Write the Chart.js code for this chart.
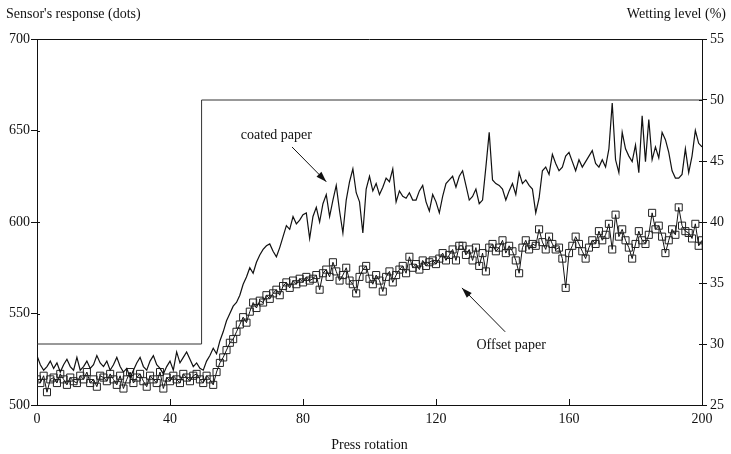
<!DOCTYPE html>
<html>
<head>
<meta charset="utf-8">
<script src="https://cdn.jsdelivr.net/npm/chart.js@4/dist/chart.umd.min.js"></script>
<style>
  html, body { margin: 0; padding: 0; background: #fff; }
  #wrap { width: 731px; height: 454px; }
</style>
</head>
<body>
<div id="wrap"><canvas id="chart" width="731" height="454"></canvas></div>
<script>
// press rotation = index in the arrays below (0..200)
const coatedPaper = [
  527, 522, 519, 521, 524, 520, 523, 518, 522, 525,
  521, 519, 526, 519, 521, 524, 520, 522, 527, 523,
  521, 524, 519, 522, 526, 521, 518, 520, 515, 519,
  523, 526, 521, 519, 524, 527, 522, 520, 517, 521,
  524, 519, 529, 523, 526, 529, 525, 521, 523, 520,
  519, 524, 527, 531, 528, 535, 540, 546, 550, 554,
  556, 560, 566, 570, 575, 572, 578, 582, 585, 587,
  588, 584, 581, 586, 592, 598, 596, 603, 599, 601,
  604, 605, 591, 603, 608, 600, 610, 615, 603, 612,
  620, 606, 594, 612, 622, 629, 616, 611, 594, 618,
  625, 617, 621, 615, 619, 624, 622, 629, 611, 617,
  614, 613, 616, 612, 612, 617, 620, 611, 606, 615,
  611, 605, 614, 621, 623, 625, 619, 625, 628, 620,
  612, 614, 618, 610, 612, 630, 649, 623, 621, 620,
  618, 612, 617, 621, 615, 627, 621, 623, 620, 618,
  605, 613, 628, 630, 626, 637, 632, 628, 630, 636,
  638, 633, 628, 634, 630, 633, 636, 639, 632, 630,
  634, 630, 640, 665, 634, 627, 649, 640, 636, 633,
  642, 627, 658, 633, 656, 634, 641, 635, 649, 645,
  638, 628, 624, 624, 626, 640, 627, 636, 650, 643,
  641
];
const offsetPaper = [
  514, 512, 516, 507, 514, 515, 512, 517, 514, 511,
  515, 513, 512, 516, 514, 518, 512, 514, 510, 516,
  515, 513, 517, 514, 511, 516, 509, 514, 518, 512,
  515, 517, 513, 510, 516, 514, 512, 518, 509, 515,
  513, 516, 514, 512, 517, 515, 513, 516, 517, 514,
  512, 516, 514, 511, 518, 523, 526, 530, 534, 536,
  540, 544, 548, 545, 551, 556, 553, 557, 556, 560,
  558, 561, 563, 560, 565, 567, 564, 568, 566, 569,
  567, 570, 568, 569, 571, 563, 572, 574, 570, 578,
  573, 568, 571, 575, 568, 566, 561, 570, 574, 576,
  569, 566, 571, 568, 562, 570, 573, 567, 571, 574,
  576, 572, 581, 575, 577, 574, 579, 576, 578, 579,
  577, 580, 583, 579, 582, 585, 579, 587, 587, 582,
  585, 579, 586, 576, 583, 573, 586, 588, 584, 586,
  590, 583, 587, 584, 579, 572, 586, 590, 585, 588,
  587, 596, 589, 585, 592, 588, 585, 586, 580, 564,
  583, 587, 592, 588, 584, 580, 586, 590, 588, 595,
  590, 593, 599, 585, 604, 592, 596, 590, 586, 580,
  588, 595, 590, 588, 593, 605, 596, 598, 592, 583,
  590, 596, 593, 608, 598, 595, 594, 591, 599, 587,
  590
];
const wettingX = [0, 49.5, 49.5, 200];
const wettingY = [30, 30, 50, 50];
const xTicks = [0, 40, 80, 120, 160, 200];
const leftTicks = [500, 550, 600, 650, 700];
const rightTicks = [25, 30, 35, 40, 45, 50, 55];

const FONT = "'Liberation Serif', 'DejaVu Serif', serif";
const INK = "#111";

const toPoints = (arr) => arr.map((v, i) => ({ x: i, y: v }));

// titles, annotations, inward ticks
const decorations = {
  id: "decorations",
  afterDraw(chart) {
    const { ctx, chartArea: a, scales } = chart;
    const x = scales.x, yl = scales.y, yr = scales.y2;
    ctx.save();
    ctx.strokeStyle = INK;
    ctx.lineWidth = 1;
    // frame top line
    ctx.beginPath();
    ctx.moveTo(a.left, a.top + 0.5);
    ctx.lineTo(a.right, a.top + 0.5);
    ctx.stroke();
    // inward x ticks
    xTicks.forEach((t) => {
      const px = Math.round(x.getPixelForValue(t)) + 0.5;
      ctx.beginPath();
      ctx.moveTo(px, a.bottom);
      ctx.lineTo(px, a.bottom - 6);
      ctx.stroke();
    });
    // inward y ticks
    leftTicks.forEach((t) => {
      const py = Math.round(yl.getPixelForValue(t)) + 0.5;
      ctx.beginPath();
      ctx.moveTo(a.left, py);
      ctx.lineTo(a.left + 3, py);
      ctx.stroke();
    });
    rightTicks.forEach((t) => {
      const py = Math.round(yr.getPixelForValue(t)) + 0.5;
      ctx.beginPath();
      ctx.moveTo(a.right, py);
      ctx.lineTo(a.right - 3, py);
      ctx.stroke();
    });

    ctx.fillStyle = INK;
    ctx.font = "14px " + FONT;
    ctx.textBaseline = "middle";
    ctx.textAlign = "left";
    ctx.fillText("Sensor's response (dots)", 6, 14);
    ctx.textAlign = "right";
    ctx.fillText("Wetting level (%)", 726, 14);

    // annotations
    const arrow = (x0, y0, x1, y1) => {
      const p0 = [x.getPixelForValue(x0), yl.getPixelForValue(y0)];
      const p1 = [x.getPixelForValue(x1), yl.getPixelForValue(y1)];
      ctx.beginPath();
      ctx.moveTo(p0[0], p0[1]);
      ctx.lineTo(p1[0], p1[1]);
      ctx.stroke();
      const ang = Math.atan2(p1[1] - p0[1], p1[0] - p0[0]);
      const len = 11, w = 0.32;
      ctx.beginPath();
      ctx.moveTo(p1[0], p1[1]);
      ctx.lineTo(p1[0] - len * Math.cos(ang - w), p1[1] - len * Math.sin(ang - w));
      ctx.lineTo(p1[0] - len * Math.cos(ang + w), p1[1] - len * Math.sin(ang + w));
      ctx.closePath();
      ctx.fill();
    };
    ctx.font = "14px " + FONT;
    ctx.textAlign = "center";
    ctx.fillText("coated paper", x.getPixelForValue(72), yl.getPixelForValue(647.5));
    arrow(76.7, 641, 87, 622);
    ctx.fillText("Offset paper", x.getPixelForValue(142.6), yl.getPixelForValue(532.8));
    arrow(140.8, 540, 127.8, 564);
    ctx.restore();
  }
};

new Chart(document.getElementById("chart"), {
  type: "line",
  data: {
    datasets: [
      {
        label: "Wetting level",
        data: wettingX.map((v, i) => ({ x: v, y: wettingY[i] })),
        yAxisID: "y2",
        borderColor: "#333",
        borderWidth: 1,
        pointRadius: 0,
        fill: false,
        tension: 0,
      },
      {
        label: "coated paper",
        data: toPoints(coatedPaper),
        yAxisID: "y",
        borderColor: INK,
        borderWidth: 1.2,
        pointRadius: 0,
        fill: false,
        tension: 0,
      },
      {
        label: "Offset paper",
        data: toPoints(offsetPaper),
        yAxisID: "y",
        borderColor: INK,
        borderWidth: 1,
        pointStyle: "rect",
        pointRadius: 5,
        pointBorderWidth: 1,
        pointBorderColor: "#222",
        pointBackgroundColor: "rgba(255,255,255,0)",
        fill: false,
        tension: 0,
      },
    ],
  },
  options: {
    responsive: false,
    animation: false,
    layout: { padding: { top: 39, left: 0, right: 0, bottom: 0 } },
    plugins: { legend: { display: false }, tooltip: { enabled: false } },
    scales: {
      x: {
        type: "linear",
        min: 0,
        max: 200,
        afterBuildTicks: (s) => { s.ticks = xTicks.map((v) => ({ value: v })); },
        afterFit: (s) => { s.height = 49; },
        grid: { display: false, drawTicks: false },
        border: { display: true, color: INK, width: 1 },
        ticks: { color: INK, font: { family: FONT, size: 14 }, padding: 6, maxRotation: 0 },
        title: { display: true, text: "Press rotation", color: INK, font: { family: FONT, size: 14 }, padding: { top: 8, bottom: 0 } },
      },
      y: {
        position: "left",
        min: 500,
        max: 700,
        afterBuildTicks: (s) => { s.ticks = leftTicks.map((v) => ({ value: v })); },
        afterFit: (s) => { s.width = 37; },
        grid: { drawOnChartArea: false, drawTicks: true, tickLength: 6, color: INK },
        border: { display: true, color: INK, width: 1 },
        ticks: { color: INK, font: { family: FONT, size: 14 }, padding: 1 },
      },
      y2: {
        position: "right",
        min: 25,
        max: 55,
        afterBuildTicks: (s) => { s.ticks = rightTicks.map((v) => ({ value: v })); },
        afterFit: (s) => { s.width = 29; },
        grid: { drawOnChartArea: false, drawTicks: true, tickLength: 5, color: INK },
        border: { display: true, color: INK, width: 1 },
        ticks: { color: INK, font: { family: FONT, size: 14 }, padding: 3 },
      },
    },
  },
  plugins: [decorations],
});
</script>
</body>
</html>
